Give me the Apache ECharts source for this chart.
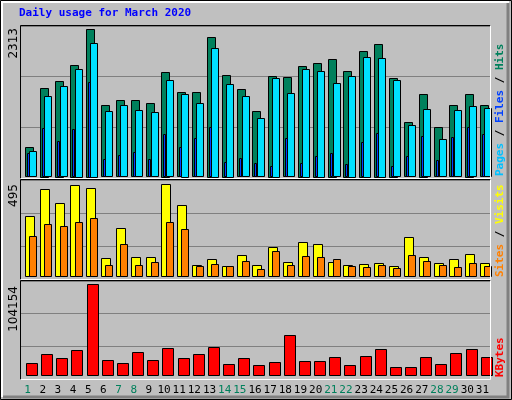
<!DOCTYPE html>
<html><head><meta charset="utf-8">
<script src="https://cdn.jsdelivr.net/npm/echarts@6/dist/echarts.min.js"></script>
<style>html,body{margin:0;padding:0;background:#c0c0c0}#c{width:512px;height:400px}</style>
</head><body><div id="c"></div>
<script>
const title = 'Daily usage for March 2020';
const days = ['1','2','3','4','5','6','7','8','9','10','11','12','13','14','15','16','17','18','19','20','21','22','23','24','25','26','27','28','29','30','31'];
const weekend = ['1','7','8','14','15','21','22','28','29'];
const hits  = [460,1387,1497,1748,2313,1120,1198,1198,1151,1638,1324,1324,2187,1591,1371,1026,1575,1559,1732,1779,1842,1654,1968,2077,1544,853,1293,775,1120,1293,1120];
const files = [398,1261,1418,1685,2093,1026,1120,1041,1010,1512,1293,1151,2015,1450,1261,916,1544,1308,1685,1654,1465,1575,1873,1858,1512,806,1057,586,1041,1104,1073];
const pages = [366,759,555,743,1481,272,335,382,272,665,460,602,775,225,288,209,162,602,209,319,366,194,539,680,162,319,633,256,617,775,665];
const visits= [323,468,393,490,473,97,258,102,102,495,382,59,91,54,113,59,156,75,183,172,75,59,65,70,54,210,102,70,91,118,70];
const sites = [215,280,269,290,312,59,172,59,75,290,253,54,65,54,81,38,134,59,108,102,91,54,48,59,43,113,81,59,48,70,54];
const kbytes= [13734,24035,19457,28613,104154,17168,13734,26324,17168,30902,19457,24035,32046,12590,19457,11445,14879,45781,16023,16023,20601,11445,21746,29757,9156,9156,20601,12590,25179,29757,20601];

const chart = echarts.init(document.getElementById('c'));
function barSeries(data, gi, color, x0, x1, z){
  return {type:'custom', xAxisIndex:gi, yAxisIndex:gi, z:z, clip:false,
    data: data.map((v,i)=>[i,v]),
    renderItem:(p,api)=>{
      const top = api.coord([api.value(0), api.value(1)]);
      const base = api.coord([api.value(0), 0]);
      return {type:'rect', shape:{x:Math.round(top[0]+x0)+0.5, y:Math.round(top[1])+0.5, width:Math.round(x1-x0), height:Math.round(base[1]-top[1])},
        style:{fill:color, stroke:'#000', lineWidth:1}};
    }};
}
function yax(gi,min,max){
  return {gridIndex:gi,type:'value',min:min,max:max,interval:(max-min)/3,
    axisLabel:{show:false},axisLine:{show:false},axisTick:{show:false},
    splitLine:{show:true,lineStyle:{color:'#808080',width:1}}};
}
function xax(gi,labels){
  return {gridIndex:gi,type:'category',data:days,axisLine:{show:false},axisTick:{show:false},
    axisLabel:labels?{show:true,margin:6,fontFamily:'DejaVu Sans Mono',fontSize:11,interval:0,
      formatter:v=>weekend.includes(v)?'{w|'+v+'}':'{n|'+v+'}',
      rich:{w:{color:'#00805c',fontFamily:'DejaVu Sans Mono',fontSize:11},n:{color:'#000',fontFamily:'DejaVu Sans Mono',fontSize:11}}}:{show:false},
    splitLine:{show:false}};
}
const maxH = Math.max(...hits), maxV = Math.max(...visits), maxK = Math.max(...kbytes);
const panels = [[20,26,490,178],[20,180,490,279],[20,281,490,379]];
const g = [];
// outer frame
g.push({type:'rect',shape:{x:0.5,y:0.5,width:511,height:399},style:{fill:'#c0c0c0',stroke:'#000'},z:-10});
g.push({type:'polyline',shape:{points:[[2,397],[2,2],[509,2]]},style:{stroke:'#fff',fill:null,lineWidth:2},z:-9});
g.push({type:'polyline',shape:{points:[[508,3],[508,397],[3,397]]},style:{stroke:'#808080',fill:null,lineWidth:3},z:-9});
panels.forEach(p=>{
  g.push({type:'polyline',shape:{points:[[p[0]+0.5,p[3]+0.5],[p[0]+0.5,p[1]-0.5],[p[2]+0.5,p[1]-0.5]]},style:{stroke:'#000',fill:null,lineWidth:1},z:50});
  g.push({type:'polyline',shape:{points:[[p[2]+0.5,p[1]-0.5],[p[2]+0.5,p[3]+0.5],[p[0]+0.5,p[3]+0.5]]},style:{stroke:'#fff',fill:null,lineWidth:1},z:50});
});
g.push({type:'text',left:19,top:8,style:{text:title,fill:'#0000ff',font:'bold 11px "DejaVu Sans Mono"'}});
function upText(x,y,text){g.push({type:'text',x:x,y:y,rotation:Math.PI/2,style:{text:text,fill:'#000',font:'12px "DejaVu Sans"',align:'right',verticalAlign:'middle'}});}
upText(14,28,String(maxH)); upText(14,184,String(maxV)); upText(14,286,String(maxK));
function rightText(y,parts){
  g.push({type:'text',x:500,y:y,rotation:Math.PI/2,style:{rich:Object.fromEntries(parts.map((p,i)=>['s'+i,{fill:p[1],font:'bold 11px "DejaVu Sans Mono"'}])),
    text:parts.map((p,i)=>'{s'+i+'|'+p[0]+'}').join(''),align:'left',verticalAlign:'middle'}});
}
rightText(176,[['Pages','#00c0ff'],[' / ','#000'],['Files','#0040ff'],[' / ','#000'],['Hits','#00805c']]);
rightText(277,[['Sites','#ff8000'],[' / ','#000'],['Visits','#ffff00']]);
rightText(377,[['KBytes','#ff0000']]);

const u1=maxH/147.4, u2=maxV/91.7, u3=maxK/90.7;
chart.setOption({
  animation:false, backgroundColor:'#c0c0c0',
  grid:panels.map(p=>({left:p[0],top:p[1],width:p[2]-p[0],height:p[3]-p[1],show:false})),
  xAxis:[xax(0,false),xax(1,false),xax(2,true)],
  yAxis:[yax(0,-(177.9-176.7)*u1,(176.7-26.1)*u1), yax(1,-3.3*u2,95.7*u2), yax(2,-4*u3,94*u3)],
  series:[
    barSeries(hits,0,'#00805c',-2.6,5.4,3),
    barSeries(files,0,'#00e0ff',1.7,9.2,4),
    barSeries(pages,0,'#0040ff',-0.6,1.7,5),
    barSeries(visits,1,'#ffff00',-2.6,6.4,3),
    barSeries(sites,1,'#ff8000',1.7,9.2,4),
    barSeries(kbytes,2,'#ff0000',-1.6,9.2,3)
  ],
  graphic:g
});
</script></body></html>
